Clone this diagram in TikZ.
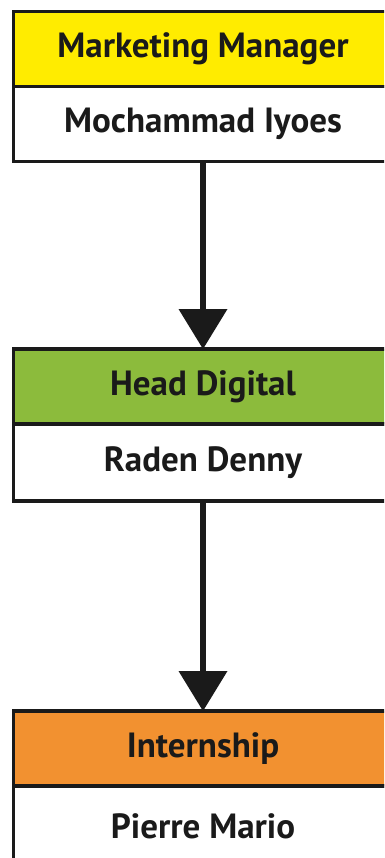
\documentclass[tikz,border=0pt]{standalone}
\usepackage{fontspec}
\setmainfont{PT Sans}
\usetikzlibrary{positioning, arrows.meta}

\definecolor{mgryellow}{HTML}{FFEC00}
\definecolor{headgreen}{HTML}{8CBB3C}
\definecolor{internorange}{HTML}{F29130}
\definecolor{inkblack}{HTML}{1A1A1A}

\begin{document}
\begin{tikzpicture}[x=1pt, y=1pt, >={Triangle[width=49pt, length=40pt, line width=0pt]}]

\tikzset{
	rolebox/.style={draw=inkblack, line width=3.5pt, minimum width=379pt, minimum height=75pt,
		inner sep=0pt, outer sep=0pt, text=inkblack, font=\bfseries\fontsize{35}{40}\selectfont},
	namebox/.style={rolebox, fill=white, minimum height=75pt},
	link/.style={->, draw=inkblack, fill=inkblack, line width=5.5pt}
}

\useasboundingbox (0,0) rectangle (384,-858);
\clip (0,0) rectangle (384,-858);

% marketing manager
\node[rolebox, fill=mgryellow] (manager) at (203,-49) {Marketing Manager};
\node[namebox, below=0pt of manager] (managerName) {Mochammad Iyoes};

% head digital
\node[rolebox, fill=headgreen, below=187.5pt of managerName] (head) {Head Digital};
\node[namebox, below=0pt of head, minimum height=77pt] (headName) {Raden Denny};

% internship
\node[rolebox, fill=internorange, below=210pt of headName] (intern) {Internship};
\node[namebox, below=0pt of intern, minimum height=80pt] (internName) {Pierre Mario};

\draw[link] (managerName) -- (head);
\draw[link] (headName) -- (intern);

\end{tikzpicture}
\end{document}
